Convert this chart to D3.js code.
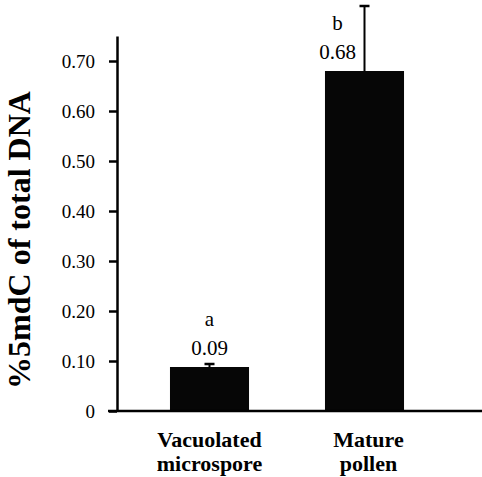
<!DOCTYPE html>
<html>
<head>
<meta charset="utf-8">
<script src="https://cdn.jsdelivr.net/npm/d3@7"></script>
<style>
  body { margin: 0; background: #fff; }
</style>
</head>
<body>
<div id="chart"></div>
<script>
var svgWidth = 482;
var svgHeight = 477;

// data
var categories = ["Vacuolated microspore", "Mature pollen"];
var catLines = [["Vacuolated", "microspore"], ["Mature", "pollen"]];
var means = [0.088, 0.68];
var errors = [0.006, 0.13];
var valueLabels = ["0.09", "0.68"];
var letters = ["a", "b"];
var yTicks = [0, 0.1, 0.2, 0.3, 0.4, 0.5, 0.6, 0.7];

var serif = "'Liberation Serif', 'DejaVu Serif', 'Times New Roman', Times, serif";

var svg = d3.select("#chart")
  .append("svg")
  .attr("width", svgWidth)
  .attr("height", svgHeight)
  .style("font-family", serif);

// scales
var y = d3.scaleLinear()
  .domain([0, 0.75])
  .range([411, 36]);

var x = d3.scaleBand()
  .domain(categories)
  .range([132, 442])
  .paddingInner(0.49)
  .paddingOuter(0.245);

var axisX = 117;

// y axis
var leftAxis = d3.axisLeft(y)
  .tickValues(yTicks)
  .tickSize(8)
  .tickSizeOuter(0)
  .tickPadding(14)
  .tickFormat(d => d === 0 ? "0" : d3.format(".2f")(d));

var yAxis = svg.append("g")
  .attr("transform", `translate(${axisX}, 0)`)
  .call(leftAxis)
  .attr("font-family", null)
  .attr("font-size", 19);

yAxis.select(".domain")
  .attr("stroke", "#000")
  .attr("stroke-width", 2.5);
yAxis.selectAll(".tick line")
  .attr("stroke", "#000")
  .attr("stroke-width", 2.5);
yAxis.selectAll(".tick text")
  .attr("fill", "#000");

// bars
svg.selectAll("rect.bar")
  .data(categories)
  .enter()
  .append("rect")
  .attr("class", "bar")
  .attr("x", d => x(d))
  .attr("y", (d, i) => y(means[i]))
  .attr("width", x.bandwidth())
  .attr("height", (d, i) => y(0) - y(means[i]))
  .attr("fill", "#060606");

// x baseline
svg.append("line")
  .attr("x1", axisX - 9)
  .attr("x2", svgWidth)
  .attr("y1", y(0))
  .attr("y2", y(0))
  .attr("stroke", "#000")
  .attr("stroke-width", 2.5);

// error bars (upper only)
var errG = svg.append("g").attr("stroke", "#000").attr("stroke-width", 2);
categories.forEach(function(c, i) {
  var cx = x(c) + x.bandwidth() / 2;
  errG.append("line")
    .attr("x1", cx).attr("x2", cx)
    .attr("y1", y(means[i])).attr("y2", y(means[i] + errors[i]));
  errG.append("line")
    .attr("x1", cx - 5).attr("x2", cx + 5)
    .attr("y1", y(means[i] + errors[i])).attr("y2", y(means[i] + errors[i]))
    .attr("stroke-width", 2.5);
});

// value and significance labels; shift left when the error bar is tall
categories.forEach(function(c, i) {
  var cx = x(c) + x.bandwidth() / 2;
  var shift = errors[i] > 0.05 ? -x.bandwidth() * 0.34 : 0;
  var top = y(means[i]);
  svg.append("text")
    .attr("x", cx + shift)
    .attr("y", top - 12)
    .attr("text-anchor", "middle")
    .attr("font-size", 21)
    .text(valueLabels[i]);
  svg.append("text")
    .attr("x", cx + shift)
    .attr("y", top - 41)
    .attr("text-anchor", "middle")
    .attr("font-size", 21)
    .text(letters[i]);
});

// category labels
categories.forEach(function(c, i) {
  var t = svg.append("text")
    .attr("text-anchor", "middle")
    .attr("font-size", 22)
    .attr("font-weight", "bold");
  catLines[i].forEach(function(line, j) {
    t.append("tspan")
      .attr("x", x(c) + x.bandwidth() / 2 + i * 4)
      .attr("y", 447 + j * 24)
      .text(line);
  });
});

// y axis title
svg.append("text")
  .attr("transform", "translate(30, 240) rotate(-90)")
  .attr("text-anchor", "middle")
  .attr("font-size", 32)
  .attr("font-weight", "bold")
  .text("%5mdC of total DNA");
</script>
</body>
</html>
